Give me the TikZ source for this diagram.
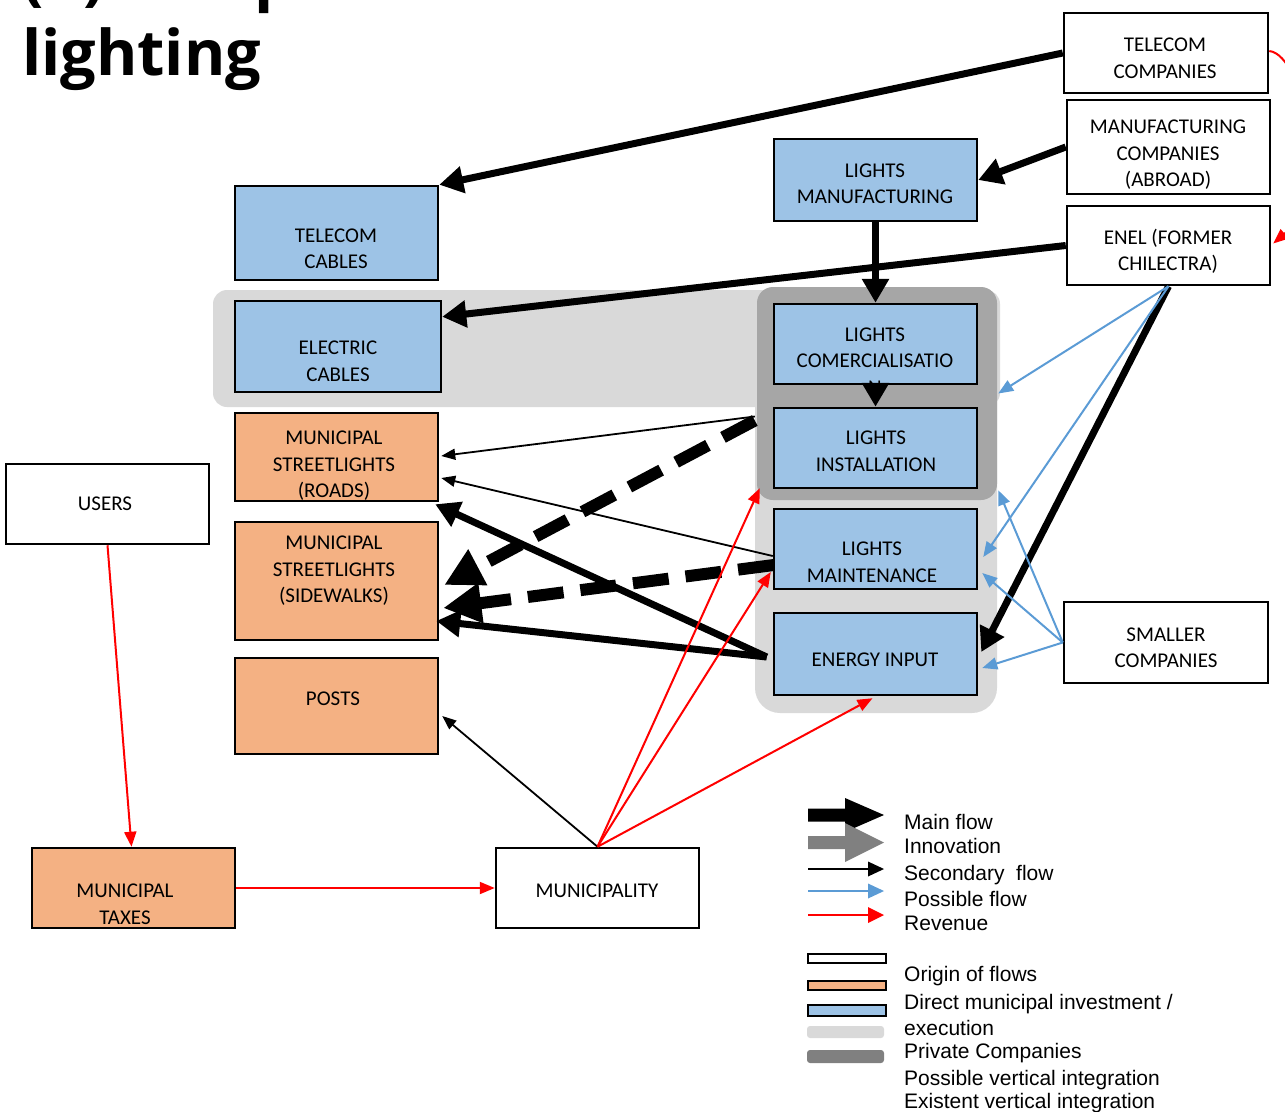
\documentclass[tikz,border=0pt]{standalone}
\usepackage{fontspec}
\setmainfont{Carlito}
\newfontfamily\legfont{Liberation Sans}
\newfontfamily\titlefont{Open Sans}
\usetikzlibrary{arrows.meta,calc}
\definecolor{bluefill}{HTML}{9DC3E6}
\definecolor{orangefill}{HTML}{F4B183}
\definecolor{lightreg}{HTML}{D9D9D9}
\definecolor{darkreg}{HTML}{A6A6A6}
\definecolor{possblue}{HTML}{5B9BD5}
\definecolor{innogray}{HTML}{808080}
\begin{document}
\begin{tikzpicture}[x=1pt,y=-1pt,
  bx/.style={draw=black, line width=2.5pt, rectangle, inner sep=0pt, minimum width=203pt, minimum height=80pt},
  wbox/.style={bx, fill=white},
  bbox/.style={bx, fill=bluefill},
  obox/.style={bx, fill=orangefill},
  reg/.style={rectangle, draw=none, inner sep=0pt},
  txt/.style={font=\fontsize{21}{26.5}\selectfont, align=center, inner sep=0pt},
  legtxt/.style={font=\legfont\fontsize{21}{25}\selectfont, anchor=base west, inner sep=0pt},
  mainflow/.style={line width=7pt, -{Triangle[length=24pt,width=26pt]}},
  dashflow/.style={line width=12pt, dash pattern=on 36pt off 17pt, -{Triangle[length=38pt,width=38pt]}},
  secflow/.style={line width=1.8pt, -{Triangle[length=14pt,width=11pt]}},
  possflow/.style={possblue, line width=2pt, -{Triangle[length=15pt,width=12pt]}},
  revflow/.style={red, line width=2pt, -{Triangle[length=15pt,width=12pt]}}
]
\useasboundingbox (0,0) rectangle (1285,1111);

% title
\node[font=\titlefont\bfseries\fontsize{63}{70}\selectfont, anchor=base west, inner sep=0pt] (title0) at (22,-2) {(b) LED public};
\node[font=\titlefont\bfseries\fontsize{63}{70}\selectfont, anchor=base west, inner sep=0pt] (title) at (22,75) {lighting};

% regions
\node[reg, fill=lightreg, rounded corners=14pt, minimum width=787pt, minimum height=117pt] (band) at (606.5,348.5) {};
\node[reg, fill=lightreg, rounded corners=25pt, minimum width=242pt, minimum height=423pt] (col) at (876,501.5) {};
\node[reg, fill=darkreg, rounded corners=16pt, minimum width=240pt, minimum height=213pt] (dk) at (877,393.5) {};

% boxes
\node[wbox, minimum width=204pt] (tc) at (1166,53) {};
\node[wbox, minimum height=94pt] (mc) at (1168.5,147) {};
\node[wbox, minimum height=79pt] (enel) at (1168.5,245.5) {};
\node[bbox, minimum height=82pt] (lm) at (875.5,180) {};
\node[bbox, minimum height=94pt] (tcab) at (336.5,233) {};
\node[bbox, minimum width=206pt, minimum height=91pt] (ec) at (338,346.5) {};
\node[bbox] (com) at (875.5,344) {};
\node[bbox] (inst) at (875.5,448) {};
\node[bbox] (mt) at (875.5,549) {};
\node[bbox, minimum height=82pt] (en) at (875.5,654) {};
\node[obox, minimum height=88pt] (rd) at (336.5,457) {};
\node[obox, minimum height=118pt] (sw) at (336.5,581) {};
\node[obox, minimum height=96pt] (posts) at (336.5,706) {};
\node[wbox] (users) at (107.5,504) {};
\node[obox] (mtax) at (133.5,888) {};
\node[wbox] (muni) at (597.5,888) {};
\node[wbox, minimum width=204pt, minimum height=81pt] (sc) at (1166,642.5) {};

% box texts
\node[txt] (tc-t) at (1165,58.5) {TELECOM\\COMPANIES};
\node[txt] (mc-t) at (1168,155) {MANUFACTURING\\COMPANIES\\(ABROAD)};
\node[txt] (enel-t) at (1168,251.5) {ENEL (FORMER\\CHILECTRA)};
\node[txt] (lm-t) at (875,184) {LIGHTS\\MANUFACTURING};
\node[txt] (tcab-t) at (336,249) {TELECOM\\CABLES};
\node[txt] (ec-t) at (338,361.5) {ELECTRIC\\CABLES};
\node[txt] (com-t) at (875,361) {LIGHTS\\COMERCIALISATIO\\N};
\node[txt] (inst-t) at (876,451.5) {LIGHTS\\INSTALLATION};
\node[txt] (mt-t) at (872,562) {LIGHTS\\MAINTENANCE};
\node[txt] (en-t) at (875,660) {ENERGY INPUT};
\node[txt] (rd-t) at (334,466) {MUNICIPAL\\STREETLIGHTS\\(ROADS)};
\node[txt] (sw-t) at (334,571) {MUNICIPAL\\STREETLIGHTS\\(SIDEWALKS)};
\node[txt] (posts-t) at (333,699) {POSTS};
\node[txt] (users-t) at (105,504) {USERS};
\node[txt] (mtax-t) at (125,904) {MUNICIPAL\\TAXES};
\node[txt] (muni-t) at (597,891) {MUNICIPALITY};
\node[txt] (sc-t) at (1166,647.5) {SMALLER\\COMPANIES};

% main flows
\draw[mainflow] (tc.west) -- (tcab.north east);
\draw[mainflow] (mc.west) -- (lm.east);
\draw[mainflow] (enel.west) -- ($(ec.north east)+(0,17)$);
\draw[mainflow] (lm.south) -- (com.north);
\draw[mainflow] (com.south) -- (inst.north);
\draw[mainflow] (enel.south) -- ($(en.east)+(3,-2)$);
\draw[mainflow] ($(en.west)+(-6,3)$) -- ($(rd.south east)+(-4,2)$);
\draw[mainflow] ($(en.west)+(-6,3)$) -- ($(sw.east)+(-3,40)$);

% dashed main flows
\draw[dashflow] ($(dk.west)+(-2,27)$) -- ($(sw.east)+(5,4)$);
\draw[dashflow] ($(mt.west)+(1,16)$) -- ($(sw.east)+(4,27)$);

% secondary flows
\draw[secflow] ($(dk.west)+(-2,23)$) -- ($(rd.east)+(2,-1)$);
\draw[secflow] ($(mt.west)+(0,7)$) -- ($(rd.east)+(2,21)$);
\draw[secflow] (muni.north) -- ($(posts.east)+(3,10)$);

% possible flows
\draw[possflow] (enel.south) -- ($(dk.east)+(1,0)$);
\draw[possflow] (enel.south) -- ($(mt.east)+(5,8)$);
\draw[possflow] (sc.west) -- ($(dk.south east)+(1,-10)$);
\draw[possflow] (sc.west) -- ($(mt.east)+(4,24)$);
\draw[possflow] (sc.west) -- ($(en.east)+(4,14)$);

% revenue
\draw[revflow] (muni.north) -- ($(dk.south west)+(3,-12)$);
\draw[revflow] (muni.north) -- ($(mt.west)+(-2,23)$);
\draw[revflow] (muni.north) -- ($(en.south)+(-3,2)$);
\draw[revflow] (users.south) -- ($(mtax.north)+(-2,0)$);
\draw[revflow] (mtax.east) -- (muni.west);
\draw[revflow] ($(tc.east)+(0,-2)$) .. controls (1305,55) and (1330,195) .. ($(enel.east)+(2,-2)$);

% legend arrows
\fill[black] (808,808.5) -- (845,808.5) -- (845,798) -- (884,815) -- (845,832) -- (845,821.5) -- (808,821.5) -- cycle;
\fill[innogray] (808,836) -- (845,836) -- (845,823) -- (884,842.5) -- (845,862) -- (845,849) -- (808,849) -- cycle;
\draw[line width=2pt] (808,869) -- (868,869);
\fill[black] (868,861.5) -- (884,869) -- (868,876.5) -- cycle;
\draw[possblue, line width=2pt] (808,891) -- (868,891);
\fill[possblue] (868,883.5) -- (884,891) -- (868,898.5) -- cycle;
\draw[red, line width=2pt] (808,915) -- (868,915);
\fill[red] (868,907) -- (884,915) -- (868,923) -- cycle;

% legend boxes
\draw[line width=2.5pt, fill=white] (808,954) rectangle (886,963);
\draw[line width=2.5pt, fill=orangefill] (808,981) rectangle (886,990);
\draw[line width=2.5pt, fill=bluefill] (808,1005) rectangle (886,1016);
\fill[lightreg, rounded corners=3pt] (807,1026) rectangle (884,1038);
\fill[innogray, rounded corners=3pt] (807,1050) rectangle (884,1063);

% legend texts
\node[legtxt] (l1) at (904,829) {Main flow};
\node[legtxt] (l2) at (904,853) {Innovation};
\node[legtxt] (l3) at (904,880) {Secondary\ \ flow};
\node[legtxt] (l4) at (904,906) {Possible flow};
\node[legtxt] (l5) at (904,930) {Revenue};
\node[legtxt] (l6) at (904,981) {Origin of flows};
\node[legtxt] (l7) at (904,1009) {Direct municipal investment /};
\node[legtxt] (l8) at (904,1035) {execution};
\node[legtxt] (l9) at (904,1058) {Private Companies};
\node[legtxt] (l10) at (904,1085) {Possible vertical integration};
\node[legtxt] (l11) at (904,1108) {Existent vertical integration};
\end{tikzpicture}
\end{document}
